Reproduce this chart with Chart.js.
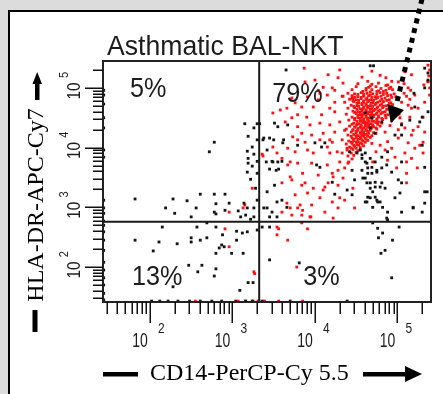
<!DOCTYPE html>
<html>
<head>
<meta charset="utf-8">
<script src="https://cdn.jsdelivr.net/npm/chart.js@4.4.1/dist/chart.umd.min.js"></script>
<style>
  html, body { margin: 0; padding: 0; background: #dcdcdc; }
  canvas { display: block; }
</style>
</head>
<body>
<canvas id="facs" width="443" height="394"></canvas>
<script>
// Each event is [log10 CD14-PerCP-Cy5.5, log10 HLA-DR-APC-Cy7]

// black: all BAL-NKT events
const blackEvents = [
  // HLA-DR+ CD14- (upper left)
  [3.15,4.40],[3.30,4.40],[3.26,4.33],[3.19,4.19],[2.78,4.09],[2.72,3.93],[3.24,4.01],[3.18,3.94],
  [3.26,3.89],[3.19,3.82],[3.19,3.74],[3.30,3.77],[3.18,3.59],[3.30,3.57],[3.22,3.47],[2.61,3.22],
  [2.78,3.22],[1.82,3.14],[2.28,3.14],[2.45,3.11],[2.91,3.22],[2.80,3.06],[2.96,3.07],[3.14,3.07],
  [2.19,2.99],[2.30,2.90],[2.56,2.99],[2.78,2.92],[2.80,2.89],[2.91,2.95],[3.07,2.94],[3.18,2.99],
  [3.26,2.99],[2.50,2.84],[3.10,2.84],[3.16,2.87],[3.22,2.80],[3.26,2.84],[3.30,3.12],[3.28,3.32],
  [3.24,3.69],[3.30,4.13],
  // double negative (lower left)
  [2.15,2.67],[2.57,2.67],[2.69,2.74],[2.80,2.67],[3.05,2.60],[3.12,2.57],[3.18,2.59],[3.30,2.62],
  [1.82,2.45],[2.11,2.42],[2.33,2.39],[2.50,2.49],[2.50,2.42],[2.61,2.45],[2.69,2.49],[2.88,2.54],
  [2.87,2.37],[3.05,2.45],[2.04,2.27],[2.84,2.32],[2.90,2.34],[2.80,2.23],[2.99,2.23],[3.13,2.23],
  [2.47,2.03],[2.63,2.03],[2.58,1.92],[2.80,1.97],[2.78,1.85],[2.28,1.67],[3.09,1.61],[3.19,1.74],
  [3.25,1.74],
  // events piled on the axes
  [2.02,1.43],[2.12,1.43],[2.22,1.43],[2.34,1.43],[2.48,1.43],[2.61,1.43],[2.75,1.43],[2.87,1.43],
  [3.04,1.43],[3.16,1.43],[3.24,1.43],[3.36,1.43],[3.70,1.43],[4.39,1.43],
  [1.44,4.96],[1.44,4.88],[1.44,4.73],[1.44,4.50],[1.44,4.33],[1.44,3.96],[1.44,3.84],[1.44,3.12],
  [1.44,2.99],[1.44,2.90],[1.44,2.77],[1.44,2.70],[1.44,2.59],[1.44,2.45],[1.44,2.28],[1.44,2.08],
  [1.44,1.95],[1.44,1.82],[1.44,1.70],[1.44,1.56],[1.44,1.45],
  // double positive (upper right)
  [3.37,4.13],[3.45,4.16],[3.50,4.13],[3.62,4.13],[3.61,4.08],[3.42,3.96],[3.41,3.76],[3.49,3.76],
  [3.55,3.76],[3.45,3.64],[3.56,3.64],[3.51,3.37],[3.42,3.26],[3.54,3.09],[3.60,3.12],[3.42,2.99],
  [3.66,3.00],[3.45,2.84],[3.54,2.84],[3.65,5.30],[4.67,5.37],[4.71,5.37],[5.33,5.33],[5.37,5.25],
  [5.37,5.13],[5.20,4.91],[5.33,5.00],[5.21,4.68],[5.30,4.51],[5.37,4.60],[5.05,4.21],[4.97,4.21],
  [5.30,4.04],[3.33,4.40],[3.51,4.41],[3.55,4.35],[3.67,4.38],[3.38,4.16],[3.79,4.04],[4.00,4.08],
  [4.08,4.01],[3.48,3.77],[3.60,3.77],[3.53,3.62],[4.02,3.71],[4.21,3.42],[4.24,3.22],[4.45,3.21],
  [4.61,3.09],[4.67,3.16],[4.73,3.17],[4.70,3.00],[4.76,3.09],[4.87,2.82],[3.38,2.99],[3.48,2.92],
  [5.19,2.99],[5.33,3.26],[5.30,2.92],[5.05,2.92],
  [4.57,3.88],[4.61,3.76],[4.67,3.82],[4.73,3.76],[4.64,3.66],[4.57,3.62],[4.69,3.57],[4.75,3.59],
  [4.81,3.66],[4.87,3.71],[4.93,3.59],[4.88,3.93],[5.05,3.76],[4.61,3.49],[4.67,3.41],[4.73,3.42],
  [4.79,3.34],[4.85,3.32],[4.67,3.32],[5.01,3.46],[4.48,3.46],[4.51,3.91],[4.42,3.93],[4.67,4.33],
  [4.73,4.24],[4.69,4.50],[4.61,4.58],[4.81,4.43],[5.05,4.38],[5.15,4.46],[5.27,4.43],[4.55,3.96],
  [4.61,3.91],[4.57,3.82],[4.63,3.74],[4.69,3.67],[4.81,3.84],[4.75,3.62],[4.64,3.57],[4.58,3.49],
  [4.63,3.41],[4.73,3.34],[4.81,3.41],[4.70,3.26],[4.64,3.17],[4.75,3.12],[4.79,3.09],[4.63,3.09],
  [4.82,3.00],[4.88,2.92],[5.05,3.41],[5.03,3.24],[4.97,3.16],[5.19,3.00],[5.33,3.07],[5.36,3.26],
  [5.33,3.67],[4.88,2.79],[4.12,4.08],[4.06,3.67],[4.45,3.62],[4.39,3.29],
  // CD14+ HLA-DR- (lower right)
  [3.36,2.67],[3.45,2.67],[4.70,2.74],[4.76,2.65],[4.82,2.57],[4.77,2.49],[4.94,2.45],[5.02,2.67],
  [4.85,2.28],[4.80,2.23],[3.45,2.12],[3.81,2.07],[4.93,1.82]
];

// red: backgated CD14+ HLA-DR+ events
const redEvents = [
  // dense population under the arrow
  [4.69,5.28],[5.09,5.27],
  [4.79,5.21],[5.17,5.22],
  [4.57,5.18],[4.86,5.17],
  [4.64,5.11],[4.93,5.11],[5.37,5.11],
  [4.77,5.08],[5.01,5.10],
  [4.52,5.07],[4.69,5.06],[4.88,5.05],[5.08,5.07],
  [4.67,5.03],[4.86,5.04],
  [4.50,5.02],[4.65,5.01],[4.74,5.02],[4.92,5.01],[5.13,5.00],
  [4.62,4.99],[4.80,4.99],[4.90,4.99],
  [4.45,4.97],[4.62,4.96],[4.69,4.97],[4.77,4.95],[4.86,4.96],[4.94,4.97],[5.16,4.96],
  [4.58,4.94],[4.67,4.93],[4.75,4.94],[4.83,4.94],
  [4.40,4.91],[4.48,4.90],[4.56,4.92],[4.63,4.91],[4.70,4.90],[4.79,4.92],[4.87,4.91],[4.96,4.90],[5.08,4.91],
  [4.52,4.89],[4.59,4.89],[4.67,4.88],[4.75,4.89],[4.83,4.89],[4.92,4.88],
  [4.34,4.86],[4.45,4.87],[4.52,4.85],[4.59,4.86],[4.65,4.87],[4.73,4.85],[4.80,4.86],[4.88,4.87],[4.98,4.85],[5.11,4.86],
  [4.48,4.84],[4.56,4.84],[4.63,4.83],[4.69,4.84],[4.76,4.84],[4.85,4.83],[4.93,4.84],
  [4.42,4.81],[4.50,4.80],[4.56,4.82],[4.62,4.81],[4.68,4.80],[4.74,4.82],[4.81,4.81],[4.90,4.80],[5.01,4.82],
  [4.46,4.79],[4.53,4.79],[4.59,4.78],[4.65,4.79],[4.71,4.79],[4.79,4.78],[4.87,4.79],
  [4.36,4.76],[4.47,4.77],[4.53,4.75],[4.59,4.76],[4.64,4.77],[4.70,4.75],[4.76,4.76],[4.83,4.77],[4.92,4.75],[5.05,4.76],
  [4.51,4.74],[4.57,4.74],[4.62,4.73],[4.68,4.74],[4.74,4.74],[4.81,4.73],[4.90,4.74],
  [4.44,4.71],[4.51,4.70],[4.57,4.72],[4.62,4.71],[4.67,4.70],[4.73,4.72],[4.79,4.71],[4.86,4.70],[4.94,4.72],
  [4.47,4.69],[4.53,4.69],[4.59,4.68],[4.64,4.69],[4.70,4.69],[4.76,4.68],[4.83,4.69],
  [4.40,4.66],[4.48,4.67],[4.55,4.65],[4.59,4.66],[4.64,4.67],[4.69,4.65],[4.75,4.66],[4.82,4.67],[4.91,4.65],
  [4.51,4.64],[4.57,4.64],[4.62,4.63],[4.67,4.64],[4.73,4.64],[4.79,4.63],[4.87,4.64],
  [4.46,4.61],[4.52,4.60],[4.57,4.62],[4.62,4.61],[4.67,4.60],[4.71,4.62],[4.77,4.61],[4.85,4.60],[4.97,4.62],
  [4.48,4.59],[4.55,4.59],[4.59,4.58],[4.64,4.59],[4.69,4.59],[4.75,4.58],[4.82,4.59],
  [4.38,4.56],[4.50,4.57],[4.55,4.55],[4.59,4.56],[4.64,4.57],[4.69,4.55],[4.74,4.56],[4.80,4.57],[4.88,4.55],
  [4.52,4.54],[4.57,4.54],[4.62,4.53],[4.67,4.54],[4.71,4.54],[4.77,4.53],[4.85,4.54],
  [4.45,4.51],[4.52,4.50],[4.57,4.52],[4.62,4.51],[4.67,4.50],[4.71,4.52],[4.77,4.51],[4.86,4.50],
  [4.48,4.49],[4.55,4.49],[4.59,4.48],[4.64,4.49],[4.69,4.49],[4.75,4.48],[4.81,4.49],
  [4.41,4.46],[4.48,4.47],[4.55,4.45],[4.59,4.46],[4.64,4.47],[4.69,4.45],[4.75,4.46],[4.82,4.47],[4.93,4.45],
  [4.51,4.44],[4.56,4.44],[4.61,4.43],[4.65,4.44],[4.71,4.44],[4.77,4.43],
  [4.47,4.41],[4.53,4.40],[4.58,4.42],[4.63,4.41],[4.68,4.40],[4.74,4.42],[4.81,4.41],
  [4.45,4.39],[4.51,4.39],[4.56,4.38],[4.61,4.39],[4.65,4.39],[4.70,4.38],[4.76,4.39],
  [4.42,4.36],[4.50,4.37],[4.56,4.35],[4.61,4.36],[4.65,4.37],[4.71,4.35],[4.79,4.36],
  [4.48,4.34],[4.55,4.34],[4.59,4.33],[4.64,4.34],[4.69,4.34],[4.74,4.33],
  [4.38,4.31],[4.46,4.30],[4.52,4.32],[4.57,4.31],[4.62,4.30],[4.68,4.32],[4.75,4.31],
  [4.46,4.29],[4.52,4.29],[4.57,4.28],[4.62,4.29],[4.67,4.29],
  [4.44,4.26],[4.50,4.27],[4.55,4.25],[4.59,4.26],[4.64,4.27],[4.71,4.25],
  [4.50,4.24],[4.55,4.24],[4.59,4.23],[4.65,4.24],[4.74,4.24],
  [4.40,4.21],[4.47,4.22],[4.52,4.20],[4.57,4.21],[4.62,4.22],[4.69,4.20],
  [4.44,4.19],[4.50,4.19],[4.55,4.18],[4.59,4.19],[4.64,4.19],
  [4.45,4.16],[4.50,4.17],[4.55,4.15],[4.61,4.16],[4.67,4.17],
  [4.47,4.14],[4.52,4.14],[4.57,4.13],[4.62,4.14],
  [4.41,4.11],[4.47,4.12],[4.52,4.10],[4.58,4.11],[4.64,4.12],
  [4.44,4.09],[4.50,4.09],[4.55,4.08],[4.61,4.09],
  [4.38,4.06],[4.45,4.07],[4.51,4.05],[4.57,4.06],
  [4.47,4.04],[4.53,4.04],[4.59,4.03],
  [4.42,4.01],[4.48,4.02],[4.55,4.00],
  [4.44,3.99],[4.50,3.99],
  [4.39,3.96],[4.46,3.97],[4.52,3.95],
  [4.44,3.91],[4.50,3.92],
  [4.40,3.86],[4.47,3.87],
  [4.45,3.81],
  [4.41,3.76],
  // halo around the population
  [4.28,5.17],[4.16,5.22],[4.04,4.96],[4.33,4.86],[5.03,4.50],[5.09,4.33],[5.01,4.16],[4.93,3.99],
  [4.85,3.96],[4.79,4.04],[4.74,3.93],[4.88,3.79],[5.21,4.88],[5.25,4.66],[5.32,5.05],
  [5.39,5.30],[5.38,5.20],[5.37,5.10],[5.37,5.38],[5.39,5.00],[5.33,4.76],[5.39,4.88],
  [5.31,4.51],[5.25,4.35],[5.17,4.21],[5.31,4.09],[5.21,3.99],[5.13,4.08],[5.31,3.91],[5.17,3.82],
  [5.09,3.91],[5.27,4.04],[5.33,4.26],[5.19,4.29],[5.11,3.41],[4.70,3.76],[4.97,3.84],[5.11,3.76],
  [4.99,3.66],[5.11,3.57],[5.24,3.66],[5.15,4.81],[5.13,4.71],[5.17,4.66],[5.02,4.56],[5.15,4.51],
  [4.69,4.07],[4.88,4.10],[4.85,4.26],[4.91,4.37],[5.01,4.30],[5.05,4.40],
  // trail toward lower CD14 / HLA-DR
  [3.87,5.33],[4.30,5.30],[3.88,5.10],[4.00,5.13],[4.10,5.01],[4.21,5.00],[4.34,5.08],[4.24,4.96],
  [4.06,4.91],[3.91,4.85],[4.04,4.80],[4.15,4.88],[4.24,4.76],[4.45,4.83],[4.18,4.66],[3.98,4.68],
  [3.84,4.68],[3.76,4.75],[3.72,4.83],[3.66,4.66],[3.58,4.63],[3.49,4.58],[3.79,4.55],[3.90,4.51],
  [4.08,4.55],[4.24,4.60],[3.72,4.50],[3.64,4.43],[3.79,4.35],[3.94,4.38],[4.06,4.41],[4.18,4.38],
  [4.30,4.43],[4.36,4.29],[4.24,4.26],[4.10,4.24],[3.96,4.21],[3.84,4.24],[3.73,4.18],[3.88,4.09],
  [4.06,4.13],[4.21,4.09],[4.33,4.13],[4.18,4.13],[4.45,4.09],[3.36,3.89],[3.54,3.91],[3.67,3.99],
  [3.76,3.93],[3.91,3.96],[4.15,4.01],[4.27,3.93],[4.39,3.99],[4.33,3.91],[4.18,3.91],[3.49,4.01],
  [3.37,3.86],[3.60,3.82],[3.70,3.76],[3.79,4.13],[3.98,3.91],[4.30,3.76],[4.15,3.71],[3.96,3.74],
  [3.79,3.74],[3.67,3.71],[3.85,3.57],[4.04,3.54],[4.21,3.57],[4.36,3.66],[4.34,3.49],[3.72,3.46],
  [3.60,3.41],[3.84,3.37],[3.98,3.32],[4.12,3.34],[4.28,3.37],[4.46,3.32],[3.76,3.21],[3.91,3.24],
  [4.06,3.16],[4.21,3.09],[4.36,3.12],[3.66,3.07],[3.79,2.99],[3.96,3.04],[4.12,2.92],[4.28,2.99],
  [3.60,2.92],[3.72,2.87],[4.22,2.82],[4.48,2.99],[3.70,3.51],[3.88,3.41],[4.10,3.29],[4.16,3.41],
  [4.22,3.51],[4.28,3.62],[4.40,3.74],[4.30,3.16],[3.70,2.99],[3.82,3.04],[3.85,2.95],[3.94,2.84],
  [3.84,2.87],[3.95,2.84],
  // remaining quadrants
  [3.24,3.32],[2.96,2.92],[3.13,2.99],[3.15,3.04],
  [2.91,2.64],[2.96,2.34],[3.26,1.92],[3.27,1.89],
  [3.54,2.67],[3.56,2.64],[3.54,2.54],[3.67,2.45],[3.84,2.74],[3.91,2.64],[3.78,2.00],
  [2.55,1.43],[3.07,1.43],[3.16,1.43],[3.25,1.43],[3.31,1.43],[3.39,1.43],[3.56,1.43],[3.85,1.43]
];

// quadrant gate, axis limits and ticks (fluorescence intensity)
const gateCD14 = 2110;
const gateHLADR = 573;
const rangeCD14 = [27, 255000];
const rangeHLADR = [26, 282000];
const decades = [1, 2, 3, 4, 5];
const labelledDecades = [2, 3, 4, 5];
const tickMultiples = [1, 2, 3, 4, 5, 6, 7, 8, 9];

// quadrant percentages: upper left, upper right, lower left, lower right
const quadrantText = ['5%', '79%', '13%', '3%'];

const SANS = '"Liberation Sans", Arial, sans-serif';
const SERIF = '"Liberation Serif", "Times New Roman", serif';

function drawText(ctx, text, x, y, font, opt = {}) {
  ctx.save();
  ctx.translate(x, y);
  if (opt.rotate) ctx.rotate(opt.rotate);
  ctx.scale(opt.sx || 1, 1);
  ctx.font = font;
  ctx.textAlign = opt.align || 'left';
  ctx.textBaseline = 'alphabetic';
  ctx.fillStyle = opt.color || '#1c1c1c';
  ctx.fillText(text, 0, 0);
  ctx.restore();
}

function tri(ctx, pts) {
  ctx.beginPath();
  ctx.moveTo(pts[0][0], pts[0][1]);
  ctx.lineTo(pts[1][0], pts[1][1]);
  ctx.lineTo(pts[2][0], pts[2][1]);
  ctx.closePath();
  ctx.fill();
}

const facsFrame = {
  id: 'facsFrame',
  beforeDraw(chart) {
    const { ctx, width, height } = chart;
    ctx.save();
    ctx.fillStyle = '#dcdcdc';
    ctx.fillRect(0, 0, width, height);
    ctx.fillStyle = '#ffffff';
    ctx.fillRect(8, 10, width - 8, height - 10);
    ctx.strokeStyle = '#000';
    ctx.lineWidth = 2;
    ctx.beginPath();
    ctx.moveTo(9, height);
    ctx.lineTo(9, 11);
    ctx.lineTo(width, 11);
    ctx.stroke();
    ctx.restore();
  },
  afterDatasetsDraw(chart) {
    const { ctx, chartArea: a, scales: { x, y } } = chart;
    ctx.save();

    // quadrant gate
    const gx = x.getPixelForValue(gateCD14);
    const gy = y.getPixelForValue(gateHLADR);
    ctx.strokeStyle = '#1a1a1a';
    ctx.lineWidth = 2;
    ctx.beginPath();
    ctx.moveTo(gx, a.top); ctx.lineTo(gx, a.bottom);
    ctx.moveTo(a.left, gy); ctx.lineTo(a.right, gy);
    ctx.stroke();

    // plot frame
    ctx.strokeStyle = '#222';
    ctx.strokeRect(a.left, a.top, a.right - a.left, a.bottom - a.top);

    // log tick marks outside the frame
    ctx.lineWidth = 1.5;
    ctx.strokeStyle = '#111';
    ctx.beginPath();
    decades.forEach(d => tickMultiples.forEach(m => {
      const v = m * 10 ** d;
      if (v >= rangeCD14[0] && v <= rangeCD14[1]) {
        const px = Math.round(x.getPixelForValue(v)) + 0.25;
        ctx.moveTo(px, a.bottom);
        ctx.lineTo(px, a.bottom + (m === 1 ? 21 : 12));
      }
      if (v >= rangeHLADR[0] && v <= rangeHLADR[1]) {
        const py = Math.round(y.getPixelForValue(v)) + 0.25;
        ctx.moveTo(a.left, py);
        ctx.lineTo(a.left - (m === 1 ? 18 : 10), py);
      }
    }));
    ctx.stroke();

    // decade labels 10^n
    labelledDecades.forEach(d => {
      const px = x.getPixelForValue(10 ** d);
      drawText(ctx, '10', px - 10, a.bottom + 45, '20px ' + SANS, { align: 'center', sx: 0.7 });
      drawText(ctx, String(d), px + 11.5, a.bottom + 31, '15px ' + SANS, { align: 'center', sx: 0.8 });
      const py = y.getPixelForValue(10 ** d);
      drawText(ctx, '10', a.left - 23, py + 3, '18px ' + SANS, { align: 'center', sx: 0.85, rotate: -Math.PI / 2 });
      drawText(ctx, String(d), a.left - 35, py - 13, '13px ' + SANS, { align: 'center', sx: 0.85, rotate: -Math.PI / 2 });
    });

    // quadrant percentages
    const pct = '28px ' + SANS;
    drawText(ctx, quadrantText[0], a.left + 27, a.top + 36, pct, { sx: 0.9 });
    drawText(ctx, quadrantText[1], gx + 13, a.top + 41, pct, { sx: 0.9 });
    drawText(ctx, quadrantText[2], a.left + 29, a.bottom - 17, pct, { sx: 0.9 });
    drawText(ctx, quadrantText[3], gx + 44, a.bottom - 17, pct, { sx: 0.9 });

    // title
    drawText(ctx, 'Asthmatic BAL-NKT', a.left + 4, a.top - 6, '28px ' + SANS, { sx: 0.95 });

    // axis titles with arrows
    ctx.fillStyle = '#000';
    drawText(ctx, 'CD14-PerCP-Cy 5.5', 150, 380, '24px ' + SERIF, { color: '#000' });
    ctx.fillRect(103, 372, 35, 4.5);
    ctx.fillRect(363, 372, 44, 4.5);
    tri(ctx, [[405, 366], [405, 382], [422, 374]]);

    drawText(ctx, 'HLA-DR-APC-Cy7', 43, 205, '24px ' + SERIF, { color: '#000', rotate: -Math.PI / 2, align: 'center' });
    ctx.fillRect(32.5, 310, 5, 22);
    ctx.fillRect(35, 83, 4.5, 17);
    tri(ctx, [[37.2, 72], [32.5, 84], [42, 84]]);

    // dotted pointer onto the CD14+ HLA-DR+ population
    ctx.strokeStyle = '#000';
    ctx.lineWidth = 5;
    ctx.setLineDash([5, 5]);
    ctx.beginPath();
    ctx.moveTo(422, -1);
    ctx.lineTo(396.5, 104);
    ctx.stroke();
    ctx.setLineDash([]);
    tri(ctx, [[387, 104], [404, 110], [391, 123]]);

    ctx.restore();
  }
};

const toPoints = events => events.map(([cd14, hladr]) => ({ x: 10 ** cd14, y: 10 ** hladr }));

new Chart(document.getElementById('facs'), {
  type: 'scatter',
  data: {
    datasets: [
      {
        label: 'BAL-NKT',
        data: toPoints(blackEvents),
        backgroundColor: '#141414',
        order: 0
      },
      {
        label: 'CD14+ HLA-DR+',
        data: toPoints(redEvents),
        backgroundColor: '#ff1010',
        order: 1
      }
    ]
  },
  options: {
    responsive: false,
    animation: false,
    events: [],
    layout: { padding: { left: 103, top: 61, right: 12, bottom: 92 } },
    elements: { point: { pointStyle: 'rect', radius: 2, borderWidth: 0 } },
    plugins: { legend: { display: false }, tooltip: { enabled: false } },
    scales: {
      x: { type: 'logarithmic', min: rangeCD14[0], max: rangeCD14[1], display: false },
      y: { type: 'logarithmic', min: rangeHLADR[0], max: rangeHLADR[1], display: false }
    }
  },
  plugins: [facsFrame]
});
</script>
</body>
</html>
